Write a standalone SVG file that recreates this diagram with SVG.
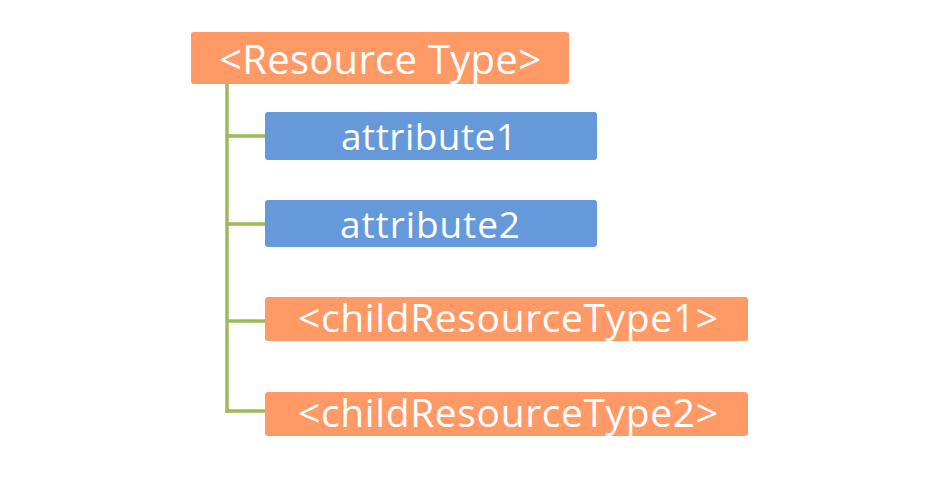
<svg xmlns="http://www.w3.org/2000/svg" width="937" height="483" viewBox="0 0 937 483">
<style>
.o{fill:#FF9966}
.b{fill:#6699D9}
.t{fill:#fff;font-family:"Open Sans","Noto Sans",sans-serif;text-anchor:middle}
.c{stroke:#9BBB59;stroke-width:3.5;fill:none}
</style>
<rect width="937" height="483" fill="#fff"/>
<g id="connectors">
<path class="c" d="M227 84 V413 M227 136 H266 M227 224 H266 M227 321 H266 M227 411 H266"/>
</g>
<g id="root"><rect class="o" x="191" y="32" width="378" height="52" rx="3"/><text class="t" x="380" y="74" font-size="40" textLength="322" lengthAdjust="spacing">&lt;Resource Type&gt;</text></g>
<g id="attribute1"><rect class="b" x="265" y="112" width="332" height="48" rx="3"/><text class="t" x="429" y="150" font-size="37" textLength="176" lengthAdjust="spacing">attribute1</text></g>
<g id="attribute2"><rect class="b" x="265" y="200" width="332" height="47" rx="3"/><text class="t" x="430" y="238" font-size="37" textLength="180" lengthAdjust="spacing">attribute2</text></g>
<g id="child1"><rect class="o" x="265" y="297" width="483" height="44" rx="3"/><text class="t" x="508" y="332" font-size="39" textLength="420" lengthAdjust="spacing">&lt;childResourceType1&gt;</text></g>
<g id="child2"><rect class="o" x="265" y="392" width="483" height="44" rx="3"/><text class="t" x="508" y="427" font-size="39" textLength="420" lengthAdjust="spacing">&lt;childResourceType2&gt;</text></g>
</svg>
